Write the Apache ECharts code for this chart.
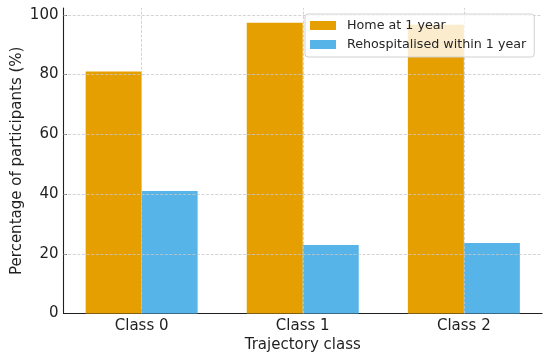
<!DOCTYPE html>
<html>
<head>
<meta charset="utf-8">
<script src="https://cdn.jsdelivr.net/npm/echarts@6/dist/echarts.min.js"></script>
<style>html,body{margin:0;padding:0;background:#fff;}#c{width:550px;height:361px;}</style>
</head>
<body>
<div id="c"></div>
<script>
const categories = ['Class 0', 'Class 1', 'Class 2'];
const homeAt1Year = [81.0, 97.4, 96.7];
const rehospWithin1Year = [41.0, 22.9, 23.6];
const yTicks = [0, 20, 40, 60, 80, 100];
const xTicks = [0, 1, 2];
const seriesNames = ['Home at 1 year', 'Rehospitalised within 1 year'];

const FONT = 'DejaVu Sans';
const TXT = '#1f1f1f';
const gridLineStyle = { type: [3, 1.6], color: '#c8c8c8', width: 0.8 };

const chart = echarts.init(document.getElementById('c'), null, { renderer: 'canvas' });
chart.setOption({
  animation: false,
  textStyle: { fontFamily: FONT },
  grid: { left: 63.5, right: 8, top: 8, bottom: 47.5, containLabel: false, outerBoundsMode: 'none' },
  legend: {
    data: seriesNames,
    orient: 'vertical',
    left: 305,
    top: 14,
    padding: [4, 8, 5, 5],
    itemGap: 4,
    itemWidth: 26,
    itemHeight: 9,
    icon: 'rect',
    backgroundColor: 'rgba(255,255,255,0.8)',
    borderColor: '#d0d0d0',
    borderWidth: 1,
    borderRadius: 3,
    textStyle: { fontFamily: FONT, fontSize: 12.7, color: '#262626', padding: [0, 0, 0, 6], lineHeight: 15 },
    z: 10
  },
  xAxis: {
    type: 'value',
    min: -0.485,
    max: 2.485,
    name: 'Trajectory class',
    nameLocation: 'middle',
    nameGap: 24.5,
    nameMoveOverlap: false,
    nameTextStyle: { fontFamily: FONT, fontSize: 15, color: TXT },
    axisLine: { show: true, onZero: false, lineStyle: { color: TXT, width: 1.1 } },
    axisTick: { show: true, inside: true, length: 3.5, customValues: xTicks, lineStyle: { color: TXT } },
    axisLabel: { fontFamily: FONT, fontSize: 15, color: TXT, margin: 5, customValues: xTicks,
      formatter: v => categories[Math.round(v)] },
    splitLine: { show: false }
  },
  yAxis: {
    type: 'value',
    min: 0,
    max: 102.3,
    interval: 20,
    name: 'Percentage of participants (%)',
    nameLocation: 'middle',
    nameGap: 39,
    nameMoveOverlap: false,
    nameTextStyle: { fontFamily: FONT, fontSize: 15, color: TXT },
    axisLine: { show: true, onZero: false, lineStyle: { color: TXT, width: 1.1 } },
    axisTick: { show: true, inside: true, length: 3.5, customValues: yTicks, lineStyle: { color: TXT } },
    axisLabel: { fontFamily: FONT, fontSize: 15, color: TXT, margin: 5, customValues: yTicks },
    splitLine: { show: false }
  },
  series: [
    {
      name: seriesNames[0],
      type: 'bar',
      data: homeAt1Year.map((v, i) => [i, v]),
      barWidth: 56,
      barGap: '0%',
      itemStyle: { color: '#E69F00' }
    },
    {
      name: seriesNames[1],
      type: 'bar',
      data: rehospWithin1Year.map((v, i) => [i, v]),
      barWidth: 56,
      barGap: '0%',
      itemStyle: { color: '#56B4E9' }
    },
    {
      name: 'grid',
      type: 'line',
      data: [],
      silent: true,
      z: 5,
      markLine: {
        silent: true,
        symbol: 'none',
        label: { show: false },
        lineStyle: gridLineStyle,
        z: 5,
        data: yTicks.filter(v => v > 0).map(v => ({ yAxis: v }))
          .concat(xTicks.map(v => ({ xAxis: v })))
      }
    }
  ]
});
</script>
</body>
</html>
